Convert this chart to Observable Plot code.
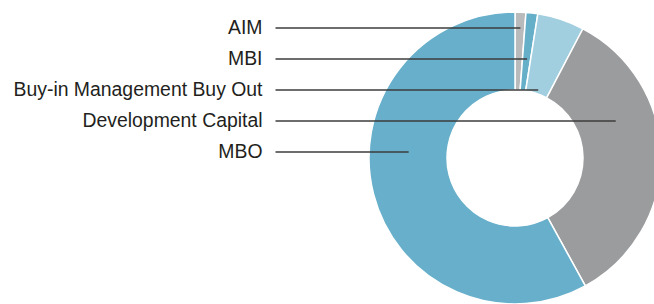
<!DOCTYPE html>
<html><head><meta charset="utf-8">
<script src="https://cdn.jsdelivr.net/npm/d3@7"></script>
<script src="https://cdn.jsdelivr.net/npm/@observablehq/plot@0.6"></script>
<style>html,body{margin:0;padding:0;background:#fff} svg{display:block}</style>
</head><body><div id="chart"></div>
<script>
// ---- data ----
const categories = ["AIM", "MBI", "Buy-in Management Buy Out", "Development Capital", "MBO"];
const shares = [1.2, 1.3, 5.2, 34.3, 58.0];
const colors = ["#b9babc", "#65afc9", "#a2cfe0", "#9b9c9e", "#67afca"];

// ---- layout ----
const W = 654, H = 304;
const CX = 515, CY = 158, R_OUT = 146, R_IN = 68;
const LABEL_X = 262, LINE_X0 = 275, ROW0 = 27.5, ROW_STEP = 31;

const table = categories.map((c, i) => ({category: c, share: shares[i], color: colors[i], i}));
const pie = d3.pie().sort(null).value(d => d.share);
const slices = pie(table);

const rows = slices.map((s, i) => {
  const y = ROW0 + i * ROW_STEP;
  const dy = CY - y;
  const mid = (s.startAngle + s.endAngle) / 2;
  let x = CX + dy * Math.tan(mid);
  const r = Math.hypot(x - CX, dy);
  let a = Math.atan2(x - CX, dy); if (a < 0) a += 2 * Math.PI;
  const ok = Math.cos(mid) * dy > 0 && r > R_IN + 2 && r < R_OUT - 4 && a >= s.startAngle && a <= s.endAngle;
  if (!ok) {
    const rm = (R_IN + R_OUT) / 2;
    const side = Math.sin(mid) >= 0 ? 1 : -1;
    x = CX + side * Math.sqrt(Math.max(0, rm * rm - dy * dy));
  }
  return {category: s.data.category, y, x2: x};
});

const arcMark = (index, scales) => {
  const cx = scales.x(CX), cy = scales.y(CY);
  const k = Math.abs(scales.x(CX + 1) - scales.x(CX));
  const arc = d3.arc().innerRadius(R_IN * k).outerRadius(R_OUT * k);
  const g = d3.create("svg:g").attr("transform", `translate(${cx},${cy})`);
  g.selectAll("path").data(slices).join("path")
    .attr("d", arc)
    .attr("fill", d => d.data.color)
    .attr("stroke", "#fff")
    .attr("stroke-width", 1.5)
    .attr("stroke-linejoin", "round");
  return g.node();
};

const chart = Plot.plot({
  width: W, height: H,
  margin: 0,
  x: {type: "linear", domain: [0, W], range: [0, W], axis: null},
  y: {type: "linear", domain: [0, H], range: [0, H], axis: null},
  style: {fontFamily: "'Liberation Sans', Arial, Helvetica, sans-serif", background: "#fff"},
  marks: [
    arcMark,
    Plot.link(rows, {x1: LINE_X0, y1: "y", x2: "x2", y2: "y", stroke: "#3d3d3d", strokeWidth: 1.5}),
    Plot.text(rows, {x: LABEL_X, y: "y", text: "category", textAnchor: "end", fontSize: 19.4, fill: "#231f20"})
  ]
});
document.getElementById("chart").appendChild(chart);
</script>
</body></html>
